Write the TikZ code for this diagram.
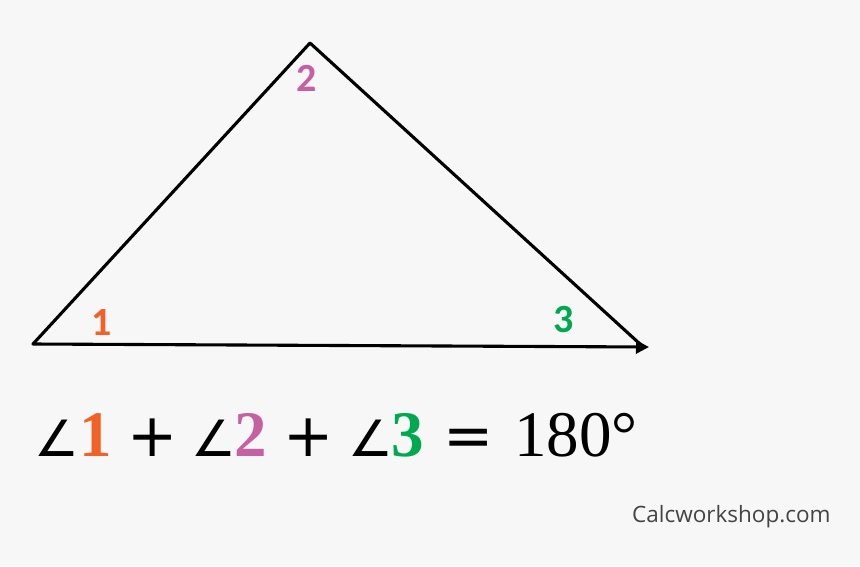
\documentclass[tikz,border=0pt]{standalone}
\usepackage{fontspec}
\setmainfont{Liberation Serif}
\newfontfamily\lblfont{Carlito}
\newfontfamily\wmfont{Open Sans}
\newfontfamily\symfont{DejaVu Sans}
\usetikzlibrary{arrows.meta}
\definecolor{bg}{HTML}{F7F7F7}
\definecolor{cone}{HTML}{F26128}
\definecolor{ctwo}{HTML}{C560A2}
\definecolor{cthree}{HTML}{00A94F}
\definecolor{wm}{HTML}{444444}
\begin{document}
\begin{tikzpicture}[x=1pt,y=-1pt,
  edge/.style={line width=3.1pt,line cap=round,line join=round},
  lbl/.style={font=\lblfont\bfseries\fontsize{40}{40}\selectfont,inner sep=0pt},
  eq/.style={anchor=base west,inner sep=0pt,font=\fontsize{65}{65}\selectfont},
  eqnum/.style={anchor=base west,inner sep=0pt,font=\bfseries\fontsize{65}{65}\selectfont},
  eqop/.style={anchor=base west,inner sep=0pt,font=\symfont\fontsize{60}{60}\selectfont},
  eqsym/.style={anchor=base west,inner sep=0pt,font=\symfont\fontsize{50}{50}\selectfont}]
\fill[bg] (0,0) rectangle (860,566);
\useasboundingbox (0,0) rectangle (860,566);
\coordinate (A) at (33,344);
\coordinate (B) at (310,43);
\coordinate (C) at (649,347);
\coordinate (Cs) at (640,344);
\draw[edge] (A) -- (B) -- (Cs);
\draw[edge,-{Triangle[length=13pt,width=13pt]}] (A) -- (C);
\node[lbl,text=cone] (l1) at (102,323) {1};
\node[lbl,text=ctwo] (l2) at (307,78) {2};
\node[lbl,text=cthree] (l3) at (564,320) {3};
% equation
\node[eqsym] (a1) at (34,456) {∠};
\node[eqnum,text=cone] (n1) at (79,456) {1};
\node[eqop] (p1) at (127,456) {+};
\node[eqsym] (a2) at (191,456) {∠};
\node[eqnum,text=ctwo] (n2) at (234,456) {2};
\node[eqop] (p2) at (283,456) {+};
\node[eqsym] (a3) at (348,456) {∠};
\node[eqnum,text=cthree] (n3) at (391,456) {3};
\node[eqop] (e1) at (443,456) {=};
\node[eq] (r) at (514,456) {180°};
\node[anchor=base west,inner sep=0pt,text=wm,font=\wmfont\fontsize{22.5}{22.5}\selectfont] (w) at (632,522) {Calcworkshop.com};
\end{tikzpicture}
\end{document}
